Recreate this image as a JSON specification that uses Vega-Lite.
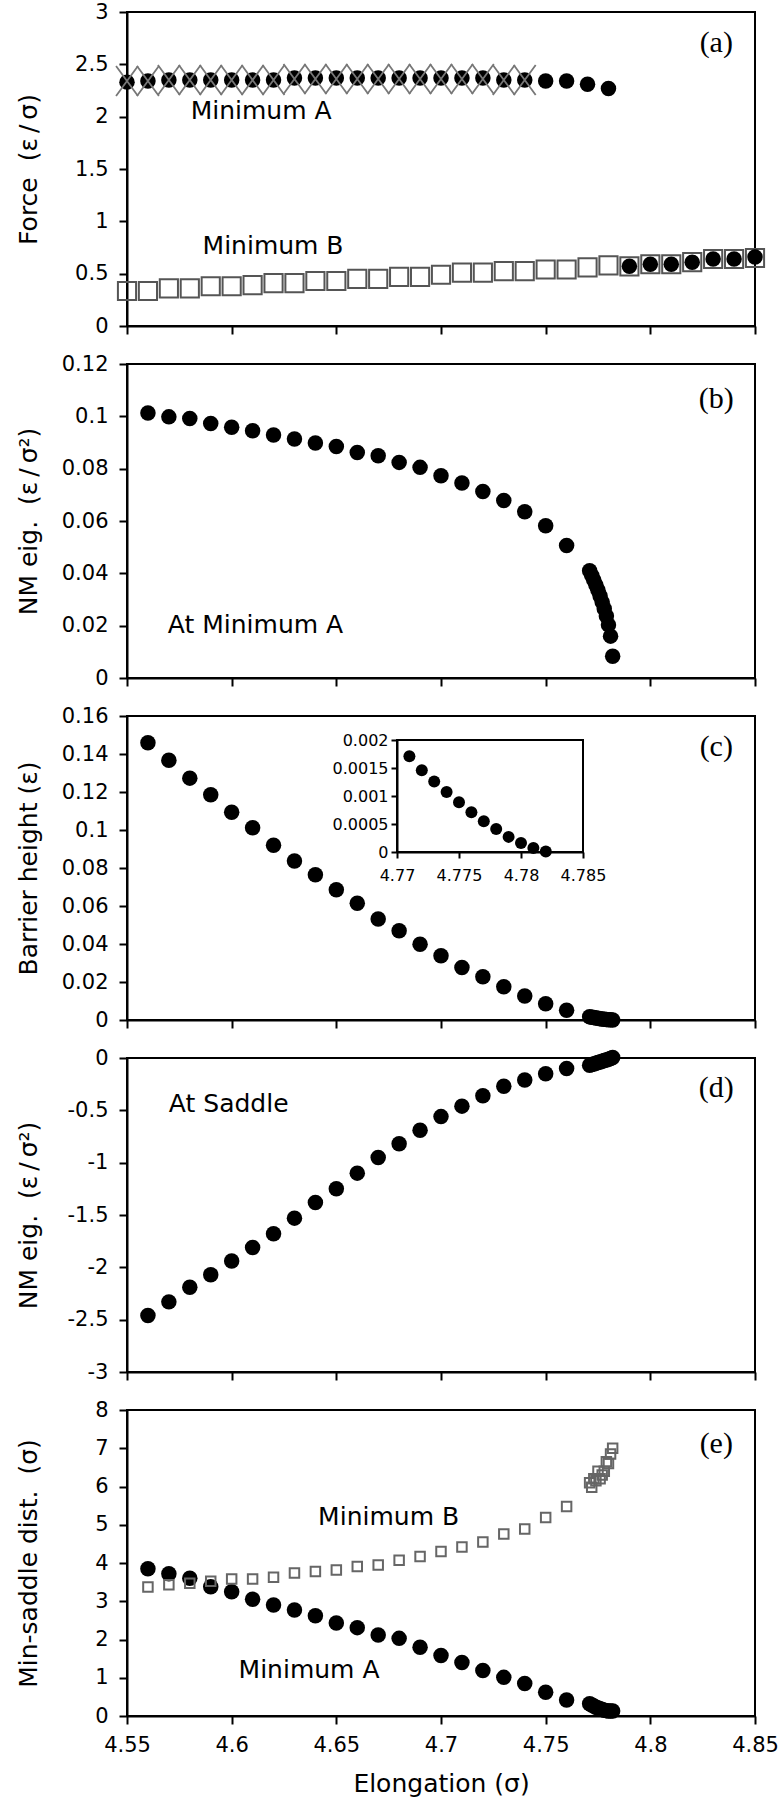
{
  "$schema": "https://vega.github.io/schema/vega-lite/v6.json",
  "padding": {"left": 14, "top": 0, "right": 0, "bottom": 0},
  "spacing": 38,
  "bounds": "flush",
  "config": {
    "locale": {"number": {"decimal": ".", "thousands": ",", "grouping": [3], "currency": ["$", ""], "minus": "-"}},
    "font": "DejaVu Sans",
    "view": {"stroke": "#000", "strokeWidth": 2},
    "axis": {"domainColor": "#000", "domainWidth": 2, "tickColor": "#000", "tickWidth": 2, "tickSize": 8, "labelFont": "DejaVu Sans", "labelFontSize": 21, "labelColor": "#000", "titleFont": "DejaVu Sans", "titleFontSize": 25, "titleFontWeight": "normal", "titleColor": "#000", "grid": false, "labelFlush": false, "labelOverlap": false},
    "axisY": {"minExtent": 80, "maxExtent": 80, "titlePadding": 6, "labelPadding": 11},
    "axisX": {"labelPadding": 10, "titlePadding": 16}
  },
  "datasets": {
    "force": [
      {"e": 4.55, "v": 2.33, "s": "A"}, {"e": 4.56, "v": 2.34, "s": "A"}, {"e": 4.57, "v": 2.35, "s": "A"}, {"e": 4.58, "v": 2.35, "s": "A"},
      {"e": 4.59, "v": 2.35, "s": "A"}, {"e": 4.60, "v": 2.35, "s": "A"}, {"e": 4.61, "v": 2.35, "s": "A"}, {"e": 4.62, "v": 2.35, "s": "A"},
      {"e": 4.63, "v": 2.37, "s": "A"}, {"e": 4.64, "v": 2.37, "s": "A"}, {"e": 4.65, "v": 2.37, "s": "A"}, {"e": 4.66, "v": 2.37, "s": "A"},
      {"e": 4.67, "v": 2.37, "s": "A"}, {"e": 4.68, "v": 2.37, "s": "A"}, {"e": 4.69, "v": 2.37, "s": "A"}, {"e": 4.70, "v": 2.37, "s": "A"},
      {"e": 4.71, "v": 2.37, "s": "A"}, {"e": 4.72, "v": 2.37, "s": "A"}, {"e": 4.73, "v": 2.35, "s": "A"}, {"e": 4.74, "v": 2.35, "s": "A"},
      {"e": 4.75, "v": 2.34, "s": "A"}, {"e": 4.76, "v": 2.34, "s": "A"}, {"e": 4.77, "v": 2.31, "s": "A"}, {"e": 4.78, "v": 2.27, "s": "A"},
      {"e": 4.55, "v": 2.34, "s": "Ax"}, {"e": 4.56, "v": 2.34, "s": "Ax"}, {"e": 4.57, "v": 2.35, "s": "Ax"}, {"e": 4.58, "v": 2.35, "s": "Ax"},
      {"e": 4.59, "v": 2.35, "s": "Ax"}, {"e": 4.60, "v": 2.35, "s": "Ax"}, {"e": 4.61, "v": 2.35, "s": "Ax"}, {"e": 4.62, "v": 2.35, "s": "Ax"},
      {"e": 4.63, "v": 2.36, "s": "Ax"}, {"e": 4.64, "v": 2.36, "s": "Ax"}, {"e": 4.65, "v": 2.36, "s": "Ax"}, {"e": 4.66, "v": 2.36, "s": "Ax"},
      {"e": 4.67, "v": 2.36, "s": "Ax"}, {"e": 4.68, "v": 2.36, "s": "Ax"}, {"e": 4.69, "v": 2.36, "s": "Ax"}, {"e": 4.70, "v": 2.36, "s": "Ax"},
      {"e": 4.71, "v": 2.36, "s": "Ax"}, {"e": 4.72, "v": 2.36, "s": "Ax"}, {"e": 4.73, "v": 2.35, "s": "Ax"}, {"e": 4.74, "v": 2.35, "s": "Ax"},
      {"e": 4.55, "v": 0.334, "s": "B"}, {"e": 4.56, "v": 0.334, "s": "B"}, {"e": 4.57, "v": 0.36, "s": "B"}, {"e": 4.58, "v": 0.36, "s": "B"},
      {"e": 4.59, "v": 0.38, "s": "B"}, {"e": 4.60, "v": 0.38, "s": "B"}, {"e": 4.61, "v": 0.39, "s": "B"}, {"e": 4.62, "v": 0.41, "s": "B"},
      {"e": 4.63, "v": 0.41, "s": "B"}, {"e": 4.64, "v": 0.43, "s": "B"}, {"e": 4.65, "v": 0.43, "s": "B"}, {"e": 4.66, "v": 0.45, "s": "B"},
      {"e": 4.67, "v": 0.45, "s": "B"}, {"e": 4.68, "v": 0.47, "s": "B"}, {"e": 4.69, "v": 0.47, "s": "B"}, {"e": 4.70, "v": 0.49, "s": "B"},
      {"e": 4.71, "v": 0.51, "s": "B"}, {"e": 4.72, "v": 0.51, "s": "B"}, {"e": 4.73, "v": 0.525, "s": "B"}, {"e": 4.74, "v": 0.525, "s": "B"},
      {"e": 4.75, "v": 0.54, "s": "B"}, {"e": 4.76, "v": 0.54, "s": "B"}, {"e": 4.77, "v": 0.56, "s": "B"}, {"e": 4.78, "v": 0.58, "s": "B"},
      {"e": 4.79, "v": 0.57, "s": "B"}, {"e": 4.80, "v": 0.59, "s": "B"}, {"e": 4.81, "v": 0.59, "s": "B"}, {"e": 4.82, "v": 0.61, "s": "B"},
      {"e": 4.83, "v": 0.64, "s": "B"}, {"e": 4.84, "v": 0.64, "s": "B"}, {"e": 4.85, "v": 0.65, "s": "B"},
      {"e": 4.79, "v": 0.57, "s": "Bc"}, {"e": 4.80, "v": 0.59, "s": "Bc"}, {"e": 4.81, "v": 0.59, "s": "Bc"}, {"e": 4.82, "v": 0.61, "s": "Bc"},
      {"e": 4.83, "v": 0.64, "s": "Bc"}, {"e": 4.84, "v": 0.64, "s": "Bc"}, {"e": 4.85, "v": 0.66, "s": "Bc"}
    ],
    "eigA": [
      {"e": 4.56, "v": 0.1013}, {"e": 4.57, "v": 0.0998}, {"e": 4.58, "v": 0.0992}, {"e": 4.59, "v": 0.0973}, {"e": 4.60, "v": 0.0958},
      {"e": 4.61, "v": 0.0945}, {"e": 4.62, "v": 0.0929}, {"e": 4.63, "v": 0.0913}, {"e": 4.64, "v": 0.0898}, {"e": 4.65, "v": 0.0885},
      {"e": 4.66, "v": 0.0862}, {"e": 4.67, "v": 0.0849}, {"e": 4.68, "v": 0.0824}, {"e": 4.69, "v": 0.0805}, {"e": 4.70, "v": 0.0773},
      {"e": 4.71, "v": 0.0745}, {"e": 4.72, "v": 0.0713}, {"e": 4.73, "v": 0.0678}, {"e": 4.74, "v": 0.0635}, {"e": 4.75, "v": 0.0582},
      {"e": 4.76, "v": 0.0506},
      {"e": 4.771, "v": 0.0410}, {"e": 4.772, "v": 0.0392}, {"e": 4.773, "v": 0.0374}, {"e": 4.774, "v": 0.0355}, {"e": 4.775, "v": 0.0335},
      {"e": 4.776, "v": 0.0313}, {"e": 4.777, "v": 0.0290}, {"e": 4.778, "v": 0.0265}, {"e": 4.779, "v": 0.0237}, {"e": 4.780, "v": 0.0203},
      {"e": 4.781, "v": 0.0160}, {"e": 4.782, "v": 0.0083}
    ],
    "barrier": [
      {"e": 4.56, "v": 0.1459}, {"e": 4.57, "v": 0.1367}, {"e": 4.58, "v": 0.1273}, {"e": 4.59, "v": 0.1185}, {"e": 4.60, "v": 0.1093},
      {"e": 4.61, "v": 0.1012}, {"e": 4.62, "v": 0.0920}, {"e": 4.63, "v": 0.0837}, {"e": 4.64, "v": 0.0765}, {"e": 4.65, "v": 0.0685},
      {"e": 4.66, "v": 0.0615}, {"e": 4.67, "v": 0.0532}, {"e": 4.68, "v": 0.0470}, {"e": 4.69, "v": 0.0399}, {"e": 4.70, "v": 0.0338},
      {"e": 4.71, "v": 0.0276}, {"e": 4.72, "v": 0.0228}, {"e": 4.73, "v": 0.0175}, {"e": 4.74, "v": 0.0126}, {"e": 4.75, "v": 0.0085},
      {"e": 4.76, "v": 0.0051},
      {"e": 4.771, "v": 0.00171}, {"e": 4.772, "v": 0.00146}, {"e": 4.773, "v": 0.00126}, {"e": 4.774, "v": 0.00107}, {"e": 4.775, "v": 0.00089},
      {"e": 4.776, "v": 0.00071}, {"e": 4.777, "v": 0.00055}, {"e": 4.778, "v": 0.00041}, {"e": 4.779, "v": 0.00027}, {"e": 4.780, "v": 0.00016},
      {"e": 4.781, "v": 0.00007}, {"e": 4.782, "v": 0.00001}
    ],
    "eigS": [
      {"e": 4.56, "v": -2.46}, {"e": 4.57, "v": -2.33}, {"e": 4.58, "v": -2.19}, {"e": 4.59, "v": -2.07}, {"e": 4.60, "v": -1.94},
      {"e": 4.61, "v": -1.81}, {"e": 4.62, "v": -1.68}, {"e": 4.63, "v": -1.53}, {"e": 4.64, "v": -1.38}, {"e": 4.65, "v": -1.25},
      {"e": 4.66, "v": -1.10}, {"e": 4.67, "v": -0.95}, {"e": 4.68, "v": -0.82}, {"e": 4.69, "v": -0.69}, {"e": 4.70, "v": -0.56},
      {"e": 4.71, "v": -0.46}, {"e": 4.72, "v": -0.36}, {"e": 4.73, "v": -0.27}, {"e": 4.74, "v": -0.21}, {"e": 4.75, "v": -0.15},
      {"e": 4.76, "v": -0.10},
      {"e": 4.771, "v": -0.070}, {"e": 4.772, "v": -0.063}, {"e": 4.773, "v": -0.057}, {"e": 4.774, "v": -0.050}, {"e": 4.775, "v": -0.044},
      {"e": 4.776, "v": -0.038}, {"e": 4.777, "v": -0.032}, {"e": 4.778, "v": -0.025}, {"e": 4.779, "v": -0.019}, {"e": 4.780, "v": -0.012},
      {"e": 4.781, "v": -0.005}, {"e": 4.782, "v": 0.005}
    ],
    "dist": [
      {"e": 4.56, "v": 3.85, "s": "A"}, {"e": 4.57, "v": 3.72, "s": "A"}, {"e": 4.58, "v": 3.60, "s": "A"}, {"e": 4.59, "v": 3.38, "s": "A"},
      {"e": 4.60, "v": 3.25, "s": "A"}, {"e": 4.61, "v": 3.05, "s": "A"}, {"e": 4.62, "v": 2.90, "s": "A"}, {"e": 4.63, "v": 2.77, "s": "A"},
      {"e": 4.64, "v": 2.62, "s": "A"}, {"e": 4.65, "v": 2.43, "s": "A"}, {"e": 4.66, "v": 2.31, "s": "A"}, {"e": 4.67, "v": 2.12, "s": "A"},
      {"e": 4.68, "v": 2.03, "s": "A"}, {"e": 4.69, "v": 1.80, "s": "A"}, {"e": 4.70, "v": 1.58, "s": "A"}, {"e": 4.71, "v": 1.40, "s": "A"},
      {"e": 4.72, "v": 1.19, "s": "A"}, {"e": 4.73, "v": 1.01, "s": "A"}, {"e": 4.74, "v": 0.85, "s": "A"}, {"e": 4.75, "v": 0.62, "s": "A"},
      {"e": 4.76, "v": 0.42, "s": "A"},
      {"e": 4.771, "v": 0.32, "s": "A"}, {"e": 4.772, "v": 0.29, "s": "A"}, {"e": 4.773, "v": 0.26, "s": "A"}, {"e": 4.774, "v": 0.23, "s": "A"},
      {"e": 4.775, "v": 0.21, "s": "A"}, {"e": 4.776, "v": 0.19, "s": "A"}, {"e": 4.777, "v": 0.17, "s": "A"}, {"e": 4.778, "v": 0.15, "s": "A"},
      {"e": 4.779, "v": 0.14, "s": "A"}, {"e": 4.780, "v": 0.13, "s": "A"}, {"e": 4.781, "v": 0.13, "s": "A"}, {"e": 4.782, "v": 0.13, "s": "A"},
      {"e": 4.56, "v": 3.37, "s": "B"}, {"e": 4.57, "v": 3.43, "s": "B"}, {"e": 4.58, "v": 3.47, "s": "B"}, {"e": 4.59, "v": 3.52, "s": "B"},
      {"e": 4.60, "v": 3.58, "s": "B"}, {"e": 4.61, "v": 3.58, "s": "B"}, {"e": 4.62, "v": 3.63, "s": "B"}, {"e": 4.63, "v": 3.74, "s": "B"},
      {"e": 4.64, "v": 3.78, "s": "B"}, {"e": 4.65, "v": 3.82, "s": "B"}, {"e": 4.66, "v": 3.91, "s": "B"}, {"e": 4.67, "v": 3.95, "s": "B"},
      {"e": 4.68, "v": 4.07, "s": "B"}, {"e": 4.69, "v": 4.17, "s": "B"}, {"e": 4.70, "v": 4.30, "s": "B"}, {"e": 4.71, "v": 4.42, "s": "B"},
      {"e": 4.72, "v": 4.55, "s": "B"}, {"e": 4.73, "v": 4.76, "s": "B"}, {"e": 4.74, "v": 4.89, "s": "B"}, {"e": 4.75, "v": 5.19, "s": "B"},
      {"e": 4.76, "v": 5.48, "s": "B"},
      {"e": 4.771, "v": 6.10, "s": "B"}, {"e": 4.772, "v": 5.98, "s": "B"}, {"e": 4.773, "v": 6.20, "s": "B"}, {"e": 4.774, "v": 6.15, "s": "B"},
      {"e": 4.775, "v": 6.40, "s": "B"}, {"e": 4.776, "v": 6.20, "s": "B"}, {"e": 4.777, "v": 6.30, "s": "B"}, {"e": 4.778, "v": 6.40, "s": "B"},
      {"e": 4.779, "v": 6.65, "s": "B"}, {"e": 4.780, "v": 6.60, "s": "B"}, {"e": 4.781, "v": 6.85, "s": "B"}, {"e": 4.782, "v": 7.00, "s": "B"}
    ]
  },
  "vconcat": [
    {
      "width": 628, "height": 314,
      "encoding": {
        "x": {"field": "e", "type": "quantitative", "scale": {"domain": [4.55, 4.85], "nice": false, "zero": false}, "axis": {"labels": false, "title": null, "values": [4.55, 4.6, 4.65, 4.7, 4.75, 4.8, 4.85]}},
        "y": {"field": "v", "type": "quantitative", "scale": {"domain": [0, 3], "nice": false, "zero": false}, "axis": {"title": "Force\u00a0 (ε\u2009/\u2009σ)", "values": [0, 0.5, 1, 1.5, 2, 2.5, 3], "format": ".6~g"}}
      },
      "layer": [
        {"data": {"name": "force"}, "transform": [{"filter": "datum.s === 'B'"}],
         "mark": {"type": "point", "shape": "square", "filled": false, "color": "#555555", "strokeWidth": 2, "size": 330, "opacity": 1}},
        {"data": {"name": "force"}, "transform": [{"filter": "datum.s === 'A' || datum.s === 'Bc'"}],
         "mark": {"type": "point", "shape": "circle", "filled": true, "color": "#000000", "size": 240, "opacity": 1}},
        {"data": {"name": "force"}, "transform": [{"filter": "datum.s === 'Ax'"}],
         "mark": {"type": "point", "shape": "M-0.73,-1L0.73,1M-0.73,1L0.73,-1", "filled": false, "color": "#777777", "strokeWidth": 1.8, "size": 900, "opacity": 1}},
        {"data": {"values": [{"e": 4.5804, "v": 2.054, "t": "Minimum A"}, {"e": 4.5861, "v": 0.764, "t": "Minimum B"}]},
         "mark": {"type": "text", "font": "DejaVu Sans", "fontSize": 25, "align": "left", "baseline": "middle", "color": "#000"},
         "encoding": {"text": {"field": "t", "type": "nominal"}}},
        {"data": {"values": [{"e": 4.8315, "v": 2.70, "t": "(a)"}]},
         "mark": {"type": "text", "font": "Liberation Serif", "fontSize": 30, "align": "center", "baseline": "middle", "color": "#000"},
         "encoding": {"text": {"field": "t", "type": "nominal"}}}
      ]
    },
    {
      "width": 628, "height": 314,
      "encoding": {
        "x": {"field": "e", "type": "quantitative", "scale": {"domain": [4.55, 4.85], "nice": false, "zero": false}, "axis": {"labels": false, "title": null, "values": [4.55, 4.6, 4.65, 4.7, 4.75, 4.8, 4.85]}},
        "y": {"field": "v", "type": "quantitative", "scale": {"domain": [0, 0.12], "nice": false, "zero": false}, "axis": {"title": "NM eig.\u00a0 (ε\u2009/\u2009σ²)", "values": [0, 0.02, 0.04, 0.06, 0.08, 0.1, 0.12], "format": ".6~g"}}
      },
      "layer": [
        {"data": {"name": "eigA"},
         "mark": {"type": "point", "shape": "circle", "filled": true, "color": "#000000", "size": 240, "opacity": 1}},
        {"data": {"values": [{"e": 4.5695, "v": 0.0203, "t": "At Minimum A"}]},
         "mark": {"type": "text", "font": "DejaVu Sans", "fontSize": 25, "align": "left", "baseline": "middle", "color": "#000"},
         "encoding": {"text": {"field": "t", "type": "nominal"}}},
        {"data": {"values": [{"e": 4.8315, "v": 0.1066, "t": "(b)"}]},
         "mark": {"type": "text", "font": "Liberation Serif", "fontSize": 30, "align": "center", "baseline": "middle", "color": "#000"},
         "encoding": {"text": {"field": "t", "type": "nominal"}}}
      ]
    },
    {
      "width": 628, "height": 304,
      "resolve": {"scale": {"x": "independent", "y": "independent"}},
      "layer": [
        {
          "encoding": {
            "x": {"field": "e", "type": "quantitative", "scale": {"domain": [4.55, 4.85], "nice": false, "zero": false}, "axis": {"labels": false, "title": null, "values": [4.55, 4.6, 4.65, 4.7, 4.75, 4.8, 4.85]}},
            "y": {"field": "v", "type": "quantitative", "scale": {"domain": [0, 0.16], "nice": false, "zero": false}, "axis": {"title": "Barrier height (ε)", "values": [0, 0.02, 0.04, 0.06, 0.08, 0.1, 0.12, 0.14, 0.16], "format": ".6~g"}}
          },
          "layer": [
            {"data": {"name": "barrier"},
             "mark": {"type": "point", "shape": "circle", "filled": true, "color": "#000000", "size": 240, "opacity": 1}},
            {"data": {"values": [{"e": 4.8315, "v": 0.1436, "t": "(c)"}]},
             "mark": {"type": "text", "font": "Liberation Serif", "fontSize": 30, "align": "center", "baseline": "middle", "color": "#000"},
             "encoding": {"text": {"field": "t", "type": "nominal"}}}
          ]
        },
        {
          "encoding": {
            "x": {"field": "e", "type": "quantitative", "scale": {"domain": [4.77, 4.785], "range": [270, 456], "nice": false, "zero": false}},
            "y": {"field": "v", "type": "quantitative", "scale": {"domain": [0, 0.002], "range": [136, 24], "nice": false, "zero": false}}
          },
          "layer": [
            {"data": {"values": [{"e": 4.77, "e2": 4.785, "v": 0, "v2": 0.002}]},
             "mark": {"type": "rect", "fill": "#ffffff", "fillOpacity": 0, "stroke": "#000000", "strokeWidth": 2},
             "encoding": {
               "x": {"field": "e", "type": "quantitative", "axis": {"orient": "bottom", "offset": -168, "title": null, "values": [4.77, 4.775, 4.78, 4.785], "format": ".6~g", "labelFontSize": 16, "tickSize": 6, "labelPadding": 9}},
               "x2": {"field": "e2"},
               "y": {"field": "v", "type": "quantitative", "axis": {"orient": "left", "offset": -270, "title": null, "values": [0, 0.0005, 0.001, 0.0015, 0.002], "format": ".6~g", "labelFontSize": 16, "tickSize": 6, "labelPadding": 3}},
               "y2": {"field": "v2"}
             }},
            {"data": {"name": "barrier"}, "transform": [{"filter": "datum.e > 4.7705"}],
             "mark": {"type": "point", "shape": "circle", "filled": true, "color": "#000000", "size": 144, "opacity": 1}}
          ]
        }
      ]
    },
    {
      "width": 628, "height": 314,
      "encoding": {
        "x": {"field": "e", "type": "quantitative", "scale": {"domain": [4.55, 4.85], "nice": false, "zero": false}, "axis": {"labels": false, "title": null, "values": [4.55, 4.6, 4.65, 4.7, 4.75, 4.8, 4.85]}},
        "y": {"field": "v", "type": "quantitative", "scale": {"domain": [-3, 0], "nice": false, "zero": false}, "axis": {"title": "NM eig.\u00a0 (ε\u2009/\u2009σ²)", "values": [-3, -2.5, -2, -1.5, -1, -0.5, 0], "format": ".6~g"}}
      },
      "layer": [
        {"data": {"name": "eigS"},
         "mark": {"type": "point", "shape": "circle", "filled": true, "color": "#000000", "size": 240, "opacity": 1}},
        {"data": {"values": [{"e": 4.570, "v": -0.44, "t": "At Saddle"}]},
         "mark": {"type": "text", "font": "DejaVu Sans", "fontSize": 25, "align": "left", "baseline": "middle", "color": "#000"},
         "encoding": {"text": {"field": "t", "type": "nominal"}}},
        {"data": {"values": [{"e": 4.8315, "v": -0.29, "t": "(d)"}]},
         "mark": {"type": "text", "font": "Liberation Serif", "fontSize": 30, "align": "center", "baseline": "middle", "color": "#000"},
         "encoding": {"text": {"field": "t", "type": "nominal"}}}
      ]
    },
    {
      "width": 628, "height": 306,
      "encoding": {
        "x": {"field": "e", "type": "quantitative", "scale": {"domain": [4.55, 4.85], "nice": false, "zero": false}, "axis": {"title": "Elongation (σ)", "values": [4.55, 4.6, 4.65, 4.7, 4.75, 4.8, 4.85], "format": ".6~g"}},
        "y": {"field": "v", "type": "quantitative", "scale": {"domain": [0, 8], "nice": false, "zero": false}, "axis": {"title": "Min-saddle dist.\u00a0 (σ)", "values": [0, 1, 2, 3, 4, 5, 6, 7, 8], "format": ".6~g"}}
      },
      "layer": [
        {"data": {"name": "dist"}, "transform": [{"filter": "datum.s === 'A'"}],
         "mark": {"type": "point", "shape": "circle", "filled": true, "color": "#000000", "size": 240, "opacity": 1}},
        {"data": {"name": "dist"}, "transform": [{"filter": "datum.s === 'B'"}],
         "mark": {"type": "point", "shape": "square", "filled": false, "color": "#666666", "strokeWidth": 2, "size": 90, "opacity": 1}},
        {"data": {"values": [{"e": 4.6413, "v": 5.2, "t": "Minimum B"}, {"e": 4.6033, "v": 1.2, "t": "Minimum A"}]},
         "mark": {"type": "text", "font": "DejaVu Sans", "fontSize": 25, "align": "left", "baseline": "middle", "color": "#000"},
         "encoding": {"text": {"field": "t", "type": "nominal"}}},
        {"data": {"values": [{"e": 4.8315, "v": 7.1, "t": "(e)"}]},
         "mark": {"type": "text", "font": "Liberation Serif", "fontSize": 30, "align": "center", "baseline": "middle", "color": "#000"},
         "encoding": {"text": {"field": "t", "type": "nominal"}}}
      ]
    }
  ]
}
